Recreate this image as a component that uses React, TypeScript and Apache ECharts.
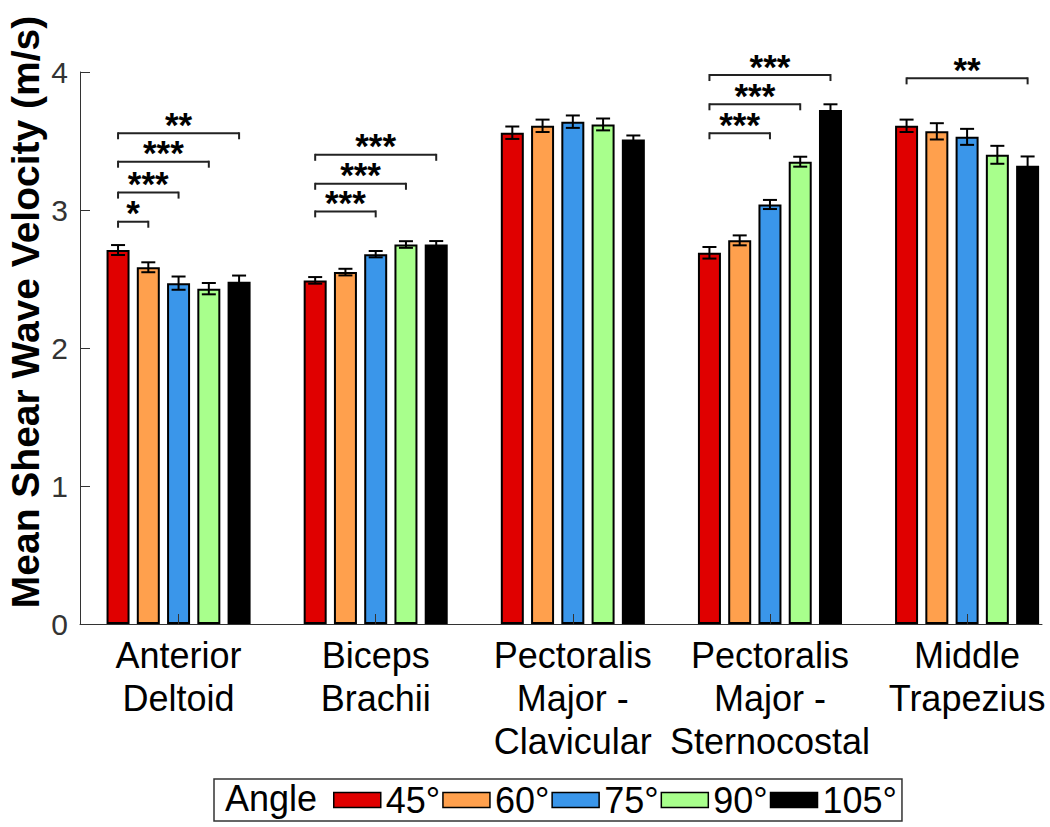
import React, { useEffect, useRef } from "react";
import * as echarts from "echarts";

const categories = [
  "Anterior\nDeltoid",
  "Biceps\nBrachii",
  "Pectoralis\nMajor -\nClavicular",
  "Pectoralis\nMajor -\nSternocostal",
  "Middle\nTrapezius",
];
const angles = ["45°", "60°", "75°", "90°", "105°"];
const colors = ["#E00000", "#FFA04D", "#3A96EA", "#A8FF8C", "#000000"];

const mean45 = [2.71, 2.49, 3.56, 2.69, 3.61];
const mean60 = [2.585, 2.55, 3.61, 2.78, 3.57];
const mean75 = [2.47, 2.68, 3.64, 3.04, 3.53];
const mean90 = [2.43, 2.75, 3.62, 3.35, 3.4];
const mean105 = [2.48, 2.75, 3.51, 3.725, 3.32];

const err45 = [0.036, 0.024, 0.045, 0.042, 0.045];
const err60 = [0.036, 0.024, 0.045, 0.036, 0.059];
const err75 = [0.048, 0.023, 0.045, 0.033, 0.058];
const err90 = [0.041, 0.024, 0.043, 0.036, 0.065];
const err105 = [0.045, 0.025, 0.03, 0.041, 0.068];

// significance brackets (always from 45° bar)
const sigCategory = [0, 0, 0, 0, 1, 1, 1, 3, 3, 3, 4];
const sigTo = [1, 2, 3, 4, 2, 3, 4, 2, 3, 4, 4];
const sigHeight = [2.915, 3.126, 3.35, 3.556, 2.99, 3.19, 3.4, 3.556, 3.766, 3.978, 3.954];
const sigLabel = ["*", "***", "***", "**", "***", "***", "***", "***", "***", "***", "**"];

const yTicks = [0, 1, 2, 3, 4];

const means = [mean45, mean60, mean75, mean90, mean105];
const errs = [err45, err60, err75, err90, err105];

const PITCH = 0.1535; // bar spacing in category units
const FONT = '"Liberation Sans", Arial, Helvetica, sans-serif';

function barX(cat: number, angle: number) {
  return cat + 1 + (angle - 2) * PITCH;
}

export default function App() {
  const ref = useRef<HTMLDivElement>(null);
  useEffect(() => {
    if (!ref.current) return;
    const chart = echarts.init(ref.current, undefined, { renderer: "svg" });

    const barSeries = angles.map((a, s) => ({
      name: a,
      type: "bar",
      barWidth: 23,
      barGap: "-100%",
      z: 2,
      itemStyle: { color: colors[s], borderColor: "#000", borderWidth: 2 },
      data: means[s].map((v, c) => [barX(c, s), v]),
    }));

    const errData: number[][] = [];
    means.forEach((arr, s) =>
      arr.forEach((v, c) => errData.push([barX(c, s), v, errs[s][c]]))
    );

    const sigData = sigCategory.map((c, i) => [c, sigTo[i], sigHeight[i], i]);

    const option: any = {
      animation: false,
      backgroundColor: "#fff",
      grid: { left: 80, right: 8, top: 72, bottom: 203 },
      xAxis: {
        type: "value",
        min: 0.5,
        max: 5.38,
        z: 10,
        splitLine: { show: false },
        axisLine: { show: true, lineStyle: { color: "#333", width: 1 } },
        axisTick: {
          show: true,
          inside: true,
          length: 10,
          customValues: [1, 2, 3, 4, 5],
          lineStyle: { color: "#333", width: 1 },
        },
        axisLabel: {
          customValues: [1, 2, 3, 4, 5],
          formatter: (v: number) => categories[Math.round(v) - 1] || "",
          fontSize: 36,
          lineHeight: 43,
          color: "#000",
          fontFamily: FONT,
          margin: 10,
        },
      },
      yAxis: {
        type: "value",
        min: 0,
        max: 4,
        interval: 1,
        z: 10,
        splitLine: { show: false },
        axisLine: { show: true, lineStyle: { color: "#333", width: 1 } },
        axisTick: { show: true, inside: true, length: 10, lineStyle: { color: "#333" } },
        axisLabel: {
          fontSize: 30,
          color: "#333",
          fontFamily: FONT,
          margin: 12,
          formatter: (v: number) => (yTicks.includes(v) ? String(v) : ""),
        },
      },
      legend: {
        data: angles,
        left: 214,
        top: 779,
        orient: "horizontal",
        padding: [3, 5, 3, 119],
        itemWidth: 47,
        itemHeight: 15,
        itemGap: 2,
        icon: "rect",
        selectedMode: false,
        borderColor: "#333",
        borderWidth: 1.5,
        itemStyle: { borderWidth: 1.5 },
        textStyle: { fontSize: 36, color: "#000", fontFamily: FONT },
      },
      graphic: [
        {
          type: "text",
          x: 25,
          y: 312,
          rotation: Math.PI / 2,
          style: {
            text: "Mean Shear Wave Velocity (m/s)",
            font: `bold 39px ${FONT}`,
            fill: "#000",
            align: "center",
            verticalAlign: "middle",
          },
        },
        {
          type: "text",
          x: 225,
          y: 798,
          style: {
            text: "Angle",
            font: `36px ${FONT}`,
            fill: "#000",
            align: "left",
            verticalAlign: "middle",
          },
        },
      ],
      series: [
        ...barSeries,
        {
          type: "custom",
          name: "err",
          z: 5,
          clip: false,
          data: errData,
          renderItem: (params: any, api: any) => {
            const x = api.value(0);
            const m = api.value(1);
            const e = api.value(2);
            const top = api.coord([x, m + e]);
            const bot = api.coord([x, m - e]);
            const hw = 7;
            const st = { stroke: "#000", lineWidth: 2 };
            return {
              type: "group",
              children: [
                { type: "line", shape: { x1: top[0], y1: top[1], x2: bot[0], y2: bot[1] }, style: st },
                { type: "line", shape: { x1: top[0] - hw, y1: top[1], x2: top[0] + hw, y2: top[1] }, style: st },
                { type: "line", shape: { x1: bot[0] - hw, y1: bot[1], x2: bot[0] + hw, y2: bot[1] }, style: st },
              ],
            };
          },
        },
        {
          type: "custom",
          name: "sig",
          z: 6,
          clip: false,
          data: sigData,
          renderItem: (params: any, api: any) => {
            const c = api.value(0);
            const to = api.value(1);
            const h = api.value(2);
            const idx = api.value(3);
            const p1 = api.coord([barX(c, 0), h]);
            const p2 = api.coord([barX(c, to), h]);
            const st = { stroke: "#222", lineWidth: 2 };
            return {
              type: "group",
              children: [
                { type: "line", shape: { x1: p1[0], y1: p1[1], x2: p2[0], y2: p2[1] }, style: st },
                { type: "line", shape: { x1: p1[0], y1: p1[1] - 1, x2: p1[0], y2: p1[1] + 6 }, style: st },
                { type: "line", shape: { x1: p2[0], y1: p2[1] - 1, x2: p2[0], y2: p2[1] + 6 }, style: st },
                {
                  type: "text",
                  style: {
                    text: sigLabel[idx],
                    x: (p1[0] + p2[0]) / 2,
                    y: p1[1] - 9,
                    font: `bold 35px ${FONT}`,
                    lineHeight: 14,
                    fill: "#000",
                    align: "center",
                    verticalAlign: "middle",
                  },
                },
              ],
            };
          },
        },
      ],
    };
    chart.setOption(option);
    return () => chart.dispose();
  }, []);
  return (
    <div
      ref={ref}
      style={{ position: "absolute", left: 0, top: 0, width: 1050, height: 827 }}
    />
  );
}
